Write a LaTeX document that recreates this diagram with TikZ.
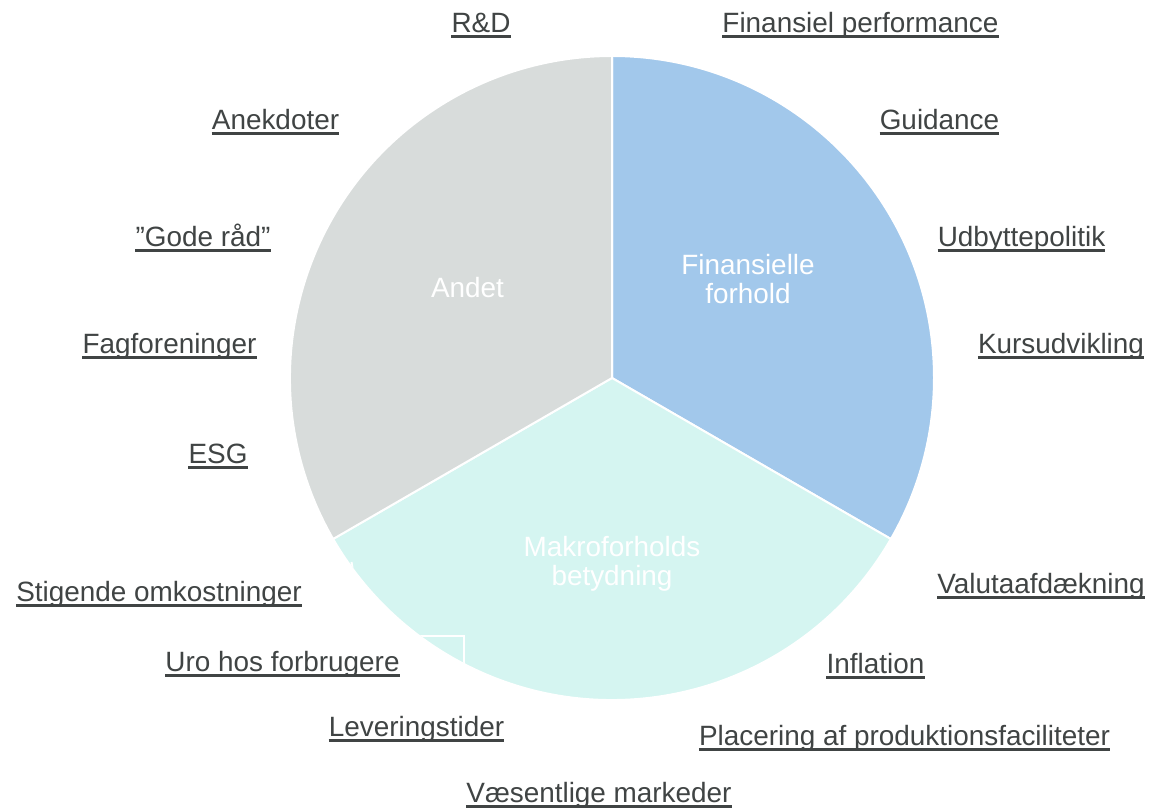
\documentclass[tikz,border=0pt]{standalone}
\usepackage{fontspec}
\setmainfont{Liberation Sans}
\definecolor{txt}{RGB}{64,68,68}
\definecolor{finblue}{RGB}{162,200,235}
\definecolor{makmint}{RGB}{213,245,241}
\definecolor{andgrey}{RGB}{216,220,219}
\begin{document}
\begin{tikzpicture}[x=1pt,y=1pt,
  lbl/.style={font=\fontsize{27.9}{30}\selectfont, text=txt, inner sep=0pt, anchor=base},
  inlbl/.style={font=\fontsize{27.9}{30}\selectfont, text=white, inner sep=0pt, anchor=base},
  ulbar/.style={draw=txt, line width=2.6pt},
  slice/.style={draw=white, line width=2pt}]
\useasboundingbox (0,0) rectangle (1149,810);
\fill[white] (0,0) rectangle (1149,810);

% pie centre and the three slices
\coordinate (c) at (612,432);
\fill[finblue, slice] (c) -- ++(90:322) arc[start angle=90, end angle=-30, radius=322] -- cycle;
\fill[makmint, slice] (c) -- ++(-30:322) arc[start angle=-30, end angle=-150, radius=322] -- cycle;
\fill[andgrey, slice] (c) -- ++(210:322) arc[start angle=210, end angle=90, radius=322] -- cycle;

% faint frame left inside the lower slice
\begin{scope}
  \clip (c) circle[radius=321];
  \coordinate (fa) at (420,174);
  \coordinate (fb) at (464,174);
  \coordinate (fc) at (464,120);
  \draw[white, line width=1.3pt] (fa) -- (fb) -- (fc);
  \coordinate (ma) at (351.5,248);
  \coordinate (mb) at (352.5,242);
  \draw[white, line width=2pt] (ma) -- (mb);
\end{scope}

% slice titles
\node[inlbl] (andet) at (467.5,512) {Andet};
\node[inlbl] (fin1) at (748,535) {Finansielle};
\node[inlbl] (fin2) at (748,506) {forhold};
\node[inlbl] (mak1) at (612,253) {Makroforholds};
\node[inlbl] (mak2) at (612,224) {betydning};

% underlined topic labels
\foreach \nm/\x/\y/\t in {
  rd/481/777/R\&D,
  finperf/860.5/777/Finansiel performance,
  anek/275.5/680/Anekdoter,
  guid/939.5/680/Guidance,
  gode/203/563/”Gode råd”,
  udb/1021.5/563/Udbyttepolitik,
  fag/169.5/456/Fagforeninger,
  kurs/1061/456/Kursudvikling,
  esg/218/346/ESG,
  valuta/1041/216/Valutaafdækning,
  stig/159/208/Stigende omkostninger,
  uro/282.5/138/Uro hos forbrugere,
  infl/875.5/136/Inflation,
  lev/416.5/73/Leveringstider,
  plac/904.5/64/Placering af produktionsfaciliteter,
  vaes/599/7/Væsentlige markeder}
{
  \node[lbl] (\nm) at (\x,\y) {\t};
  \draw[ulbar] ([yshift=-3.6pt]\nm.base west) -- ([yshift=-3.6pt]\nm.base east);
}
\end{tikzpicture}
\end{document}
